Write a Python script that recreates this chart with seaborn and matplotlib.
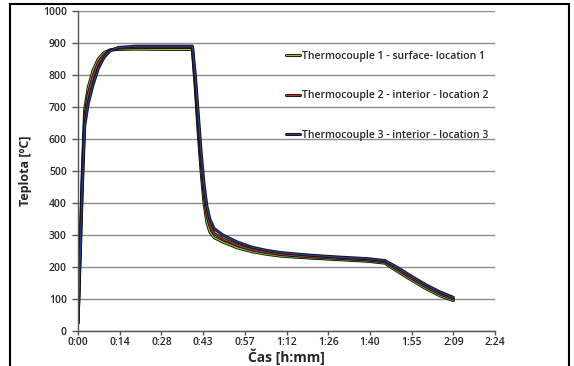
import numpy as np
import pandas as pd
import seaborn as sns
import matplotlib.pyplot as plt
import matplotlib.patheffects as pe
from matplotlib.patches import Rectangle
from matplotlib.ticker import FuncFormatter, MultipleLocator

# time in minutes
time_min = [0, 0.7, 1.5, 2.3, 3.5, 5.2, 7, 9, 11, 14, 20, 30, 39.5, 40.5, 41.5, 42.5,
            43.5, 44.5, 45.5, 47, 50, 55, 60, 65, 70, 80, 90, 100, 106, 110, 115,
            120, 125, 129.6]

tc1_surface = [25, 260, 500, 690, 760, 815, 850, 870, 878, 880, 881, 880, 880, 760,
               620, 500, 400, 340, 310, 292, 278, 260, 248, 240, 234, 228, 223, 218,
               212, 188, 160, 133, 110, 95]
tc2_interior = [25, 240, 475, 665, 740, 795, 838, 863, 877, 884, 886, 886, 886, 780,
                650, 530, 430, 365, 330, 305, 288, 268, 254, 246, 239, 232, 227, 222,
                216, 194, 166, 139, 116, 100]
tc3_interior = [25, 220, 450, 640, 710, 770, 820, 855, 875, 886, 890, 890, 890, 800,
                680, 560, 460, 390, 350, 320, 300, 278, 262, 252, 245, 237, 231, 226,
                220, 200, 172, 145, 122, 105]

labels = ['Thermocouple 1 - surface- location 1',
          'Thermocouple 2 - interior - location 2',
          'Thermocouple 3 - interior - location 3']
colors = ['#8cc63f', '#c0392b', '#2c3e91']

sns.set_style('white')
plt.rcParams['font.family'] = ['Open Sans', 'DejaVu Sans']

fig = plt.figure(figsize=(5.74, 3.66), dpi=100)
ax = fig.add_axes([0.1359, 0.0956, 0.7265, 0.8744])

for vals, lab, col in zip([tc1_surface, tc2_interior, tc3_interior], labels, colors):
    sns.lineplot(x=time_min, y=vals, ax=ax, color=col, label=lab, linewidth=0.9,
                 path_effects=[pe.Stroke(linewidth=2.2, foreground='#111111'), pe.Normal()])

ax.set_xlim(0, 144)
ax.set_ylim(0, 1000)
ax.xaxis.set_major_locator(MultipleLocator(14.4))
ax.yaxis.set_major_locator(MultipleLocator(100))
ax.xaxis.set_major_formatter(FuncFormatter(lambda v, p: f"{int(v // 60)}:{int(v % 60 + 1e-6):02d}"))
ax.grid(axis='y', color='#8c8c8c', linewidth=1)
ax.grid(axis='x', visible=False)
for s in ['top', 'right']:
    ax.spines[s].set_visible(False)
for s in ['left', 'bottom']:
    ax.spines[s].set_color('#555555')
    ax.spines[s].set_linewidth(1)
ax.tick_params(axis='y', direction='out', length=4, width=1, color='#555555',
               labelsize=7.5, pad=4, left=True)
ax.tick_params(axis='x', direction='out', length=3, width=1, color='#555555',
               labelsize=7.5, pad=1.5, bottom=True)
for t in ax.get_xticklabels() + ax.get_yticklabels():
    t.set_fontweight('semibold')

ax.set_xlabel('Čas [h:mm]', fontsize=10, fontweight='bold', labelpad=0)
ax.set_ylabel('Teplota [ºC]', fontsize=9, fontweight='bold', labelpad=8)

leg = ax.legend(loc='upper right', bbox_to_anchor=(1.007, 0.905), frameon=False,
                fontsize=7.5, handlelength=1.3, handletextpad=0.2, labelspacing=2.75)
for t in leg.get_texts():
    t.set_fontweight('semibold')

fig.patches.append(Rectangle((10 / 574, -0.02), 559 / 574, 1 - 4 / 366 + 0.02,
                             transform=fig.transFigure, fill=False,
                             edgecolor='black', linewidth=1.5))

fig.savefig('out.png', dpi=100)
